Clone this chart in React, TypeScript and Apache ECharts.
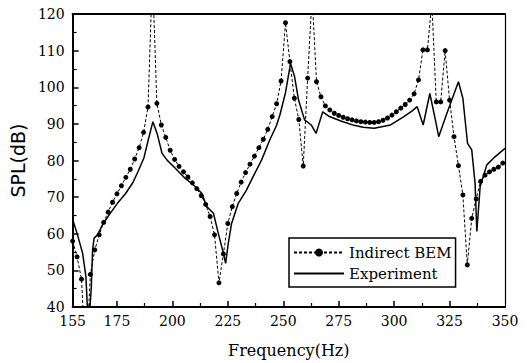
import React, { useEffect, useRef } from "react";
import * as echarts from "echarts";

const bemFreq = [155,157,159,161,163,165,167,169,171,173,175,177,179,181,183,185,187,189,191,193,195,197,199,201,203,205,207,209,211,213,215,217,219,221,223,225,227,229,231,233,235,237,239,241,243,245,247,249,251,253,255,257,259,261,263,265,267,269,271,273,275,277,279,281,283,285,287,289,291,293,295,297,299,301,303,305,307,309,311,313,315,317,319,321,323,325,327,329,331,333,335,337,339,341,343,345,347,349];
const bemValues = [58,53.7,47.6,24,48.9,55.6,59.7,63.1,65.9,68.6,70.9,73.1,75.4,77.6,80.4,83.5,87.7,94.6,131,95.6,89.7,86.3,82.8,80.3,78.4,76.9,75.5,73.9,72.3,70.4,68,64.7,59.7,46.6,54.5,62.8,67.4,71,74.1,76.7,79,81.2,83.5,85.8,88.5,92,95.5,101.7,117.6,107,97,91.2,78.5,102.5,125,101.5,97.4,94.9,93.8,92.9,92.3,91.8,91.4,91.1,90.8,90.6,90.5,90.4,90.4,90.6,91,91.6,92.4,93.3,94.3,95.3,96.5,98.2,102,110.2,110.2,123,96,96,110,96.5,86.5,78.6,70.6,51.5,64.2,69.5,74.3,76,76.9,77.6,78.2,79.3];

const expFreq = [155,157.2,159.5,161,161.8,162.6,163.4,164,164.7,166.2,168.4,171.4,175.2,178.9,182.2,184.5,187.1,189.1,191.2,193.1,195.3,197.6,201.3,205.8,210.3,213.3,215.5,218.5,220.7,223,224,225.2,226.7,229.7,233.4,236.4,240.2,243.9,246.9,248.5,251,253.3,255.1,256.9,259.6,262.6,264.8,267.8,270.8,276,281.9,286,291,298.4,304.4,308,310.4,313.1,316.1,318.6,320.1,323.8,329,331,333.1,335,336.5,337.3,338.8,341.8,345.5,350];
const expValues = [64,59.7,54.7,48.3,38,38,45,55.6,58.8,59.7,62.4,65.1,68.3,71,74,77,80.6,85.6,90.6,87.4,82,80.1,77.9,75.1,72.9,71,67.4,65.6,60.1,54.7,51.9,57.4,62.8,68.3,71.9,75.6,80.1,85.6,89.5,92.5,98.5,106.5,102.9,96.5,91.1,89.7,87.4,93.3,92,90.8,89.6,89.1,88.8,89.7,92,93.5,94.7,89.7,98.3,91.1,86.5,92.9,101.5,97,84.7,82.9,73.8,60.6,72.9,78.8,81,83.3];

const xLabels = [155,175,200,225,250,275,300,325,350];
const xMajorTicks = [175,200,225,250,275,300,325];
const xMinorTicks = [162.5,187.5,212.5,237.5,262.5,287.5,312.5,337.5];
const seriesNames = ["Indirect BEM", "Experiment"];

const SERIF = "DejaVu Serif";

export default function App() {
  const ref = useRef<HTMLDivElement>(null);
  useEffect(() => {
    document.body.style.margin = "0";
    const chart = echarts.init(ref.current!, null, { renderer: "svg" });
    const bemData = bemFreq.map((f, i) => [f, bemValues[i]]);
    const expData = expFreq.map((f, i) => [f, expValues[i]]);
    chart.setOption({
      animation: false,
      backgroundColor: "#fff",
      textStyle: { fontFamily: SERIF },
      grid: { left: 70, right: 22, top: 14, bottom: 56 },
      legend: {
        orient: "vertical",
        left: 289,
        top: 238,
        borderColor: "#000",
        borderWidth: 1.5,
        padding: [7, 4, 6, 4],
        itemGap: 6,
        itemWidth: 50,
        itemHeight: 10,
        textStyle: { fontFamily: SERIF, fontSize: 15, color: "#000" },
        data: [
          { name: seriesNames[0] },
          { name: seriesNames[1], itemStyle: { opacity: 0 } },
        ],
      },
      xAxis: [
        {
          type: "value",
          min: 155,
          max: 350,
          position: "bottom",
          name: "Frequency(Hz)",
          nameLocation: "middle",
          nameGap: 35,
          nameTextStyle: { fontFamily: SERIF, fontSize: 16, color: "#000" },
          axisLine: { lineStyle: { color: "#000", width: 2 } },
          axisTick: { inside: true, length: 6, customValues: xMajorTicks, lineStyle: { color: "#000", width: 1.5 } },
          axisLabel: { customValues: xLabels, fontFamily: SERIF, fontSize: 14, color: "#000", margin: 7 },
          splitLine: { show: false },
        },
        {
          type: "value",
          min: 155,
          max: 350,
          position: "bottom",
          axisLine: { show: false },
          axisTick: { inside: true, length: 4, customValues: xMinorTicks, lineStyle: { color: "#000", width: 1.2 } },
          axisLabel: { show: false },
          splitLine: { show: false },
        },
        {
          type: "value",
          min: 155,
          max: 350,
          position: "top",
          axisLine: { lineStyle: { color: "#000", width: 2 } },
          axisTick: { show: false },
          axisLabel: { show: false },
          splitLine: { show: false },
        },
      ],
      yAxis: [
        {
          type: "value",
          min: 40,
          max: 120,
          interval: 10,
          position: "left",
          name: "SPL(dB)",
          nameLocation: "middle",
          nameGap: 41,
          nameTextStyle: { fontFamily: "DejaVu Sans", fontSize: 19, color: "#000" },
          axisLine: { lineStyle: { color: "#000", width: 2 } },
          axisTick: { inside: true, length: 6, lineStyle: { color: "#000", width: 1.5 } },
          minorTick: { show: true, splitNumber: 2, length: 4, lineStyle: { color: "#000", width: 1.2 } },
          axisLabel: { fontFamily: SERIF, fontSize: 14, color: "#000", margin: 8 },
          splitLine: { show: false },
        },
        {
          type: "value",
          min: 40,
          max: 120,
          position: "right",
          axisLine: { show: true, lineStyle: { color: "#000", width: 1.2 } },
          axisTick: { show: false },
          axisLabel: { show: false },
          splitLine: { show: false },
        },
      ],
      series: [
        {
          name: seriesNames[0],
          type: "line",
          xAxisIndex: 0,
          yAxisIndex: 0,
          data: bemData,
          clip: true,
          symbol: "circle",
          symbolSize: 5,
          itemStyle: { color: "#000" },
          lineStyle: { color: "#000", width: 1, type: [3, 2] },
        },
        {
          name: seriesNames[1],
          type: "line",
          xAxisIndex: 0,
          yAxisIndex: 0,
          data: expData,
          clip: true,
          symbol: "none",
          itemStyle: { color: "#000" },
          lineStyle: { color: "#000", width: 1.5 },
        },
      ],
    });
    return () => chart.dispose();
  }, []);
  return <div ref={ref} style={{ width: 527, height: 363 }} />;
}
